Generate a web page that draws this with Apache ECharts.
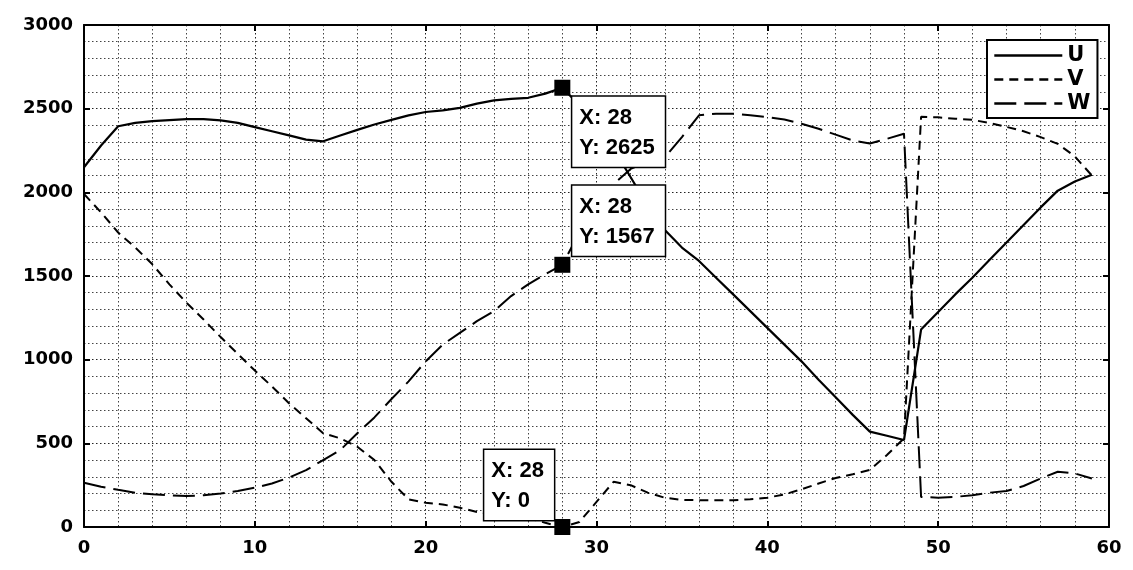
<!DOCTYPE html>
<html>
<head>
<meta charset="utf-8">
<script src="https://cdn.jsdelivr.net/npm/echarts@6/dist/echarts.min.js"></script>
<style>
html,body{margin:0;padding:0;background:#fff;}
#chart{width:1133px;height:570px;}
</style>
</head>
<body>
<div id="chart"></div>
<script>
// ---- data ----
const xValues = [0,1,2,3,4,5,6,7,8,9,10,11,12,13,14,15,16,17,18,19,20,21,22,23,24,25,26,27,28,29,30,31,32,33,34,35,36,37,38,39,40,41,42,43,44,45,46,47,48,49,50,51,52,53,54,55,56,57,58,59];
const uValues = [2150,2280,2395,2415,2425,2432,2438,2437,2430,2415,2390,2365,2340,2315,2305,2340,2373,2405,2433,2460,2480,2490,2505,2530,2550,2558,2565,2590,2625,2520,2400,2260,2090,1920,1775,1670,1590,1490,1390,1290,1190,1090,990,880,775,670,570,545,520,1180,1285,1390,1490,1595,1700,1805,1910,2010,2065,2105];
const vValues = [1990,1880,1760,1670,1570,1450,1340,1240,1135,1035,935,840,740,650,560,530,480,400,270,165,145,135,115,90,75,65,55,25,0,30,150,270,250,205,175,162,160,160,160,166,175,195,225,260,293,315,341,430,530,2451,2448,2440,2433,2415,2391,2365,2330,2290,2215,2100];
const wValues = [265,240,222,205,195,190,185,190,200,215,235,260,295,340,400,460,560,655,765,870,990,1090,1160,1230,1290,1380,1450,1510,1567,1760,1930,2050,2140,2185,2210,2330,2460,2470,2470,2460,2450,2435,2410,2380,2345,2310,2292,2320,2350,180,175,180,190,205,215,245,290,330,320,290];
const seriesNames = ['U','V','W'];
const tipX = [28, 28, 28];
const tipY = [2625, 1567, 0];
const xTicks = [0,10,20,30,40,50,60];
const yTicks = [0,500,1000,1500,2000,2500,3000];

const pairs = arr => xValues.map((x,i)=>[x,arr[i]]);
const font = 'DejaVu Sans';

const chart = echarts.init(document.getElementById('chart'), null, {renderer:'canvas'});

const gridLine = {show:true, lineStyle:{color:'#222', width:1, type:[1.5,2.5]}};
const minorLine = {show:true, lineStyle:{color:'#444', width:1, type:[1.5,2.5]}};

const xBase = {
  type:'value', min:xTicks[0], max:xTicks[xTicks.length-1], interval:10,
  axisLine:{show:true, onZero:false, lineStyle:{color:'#000', width:2}},
  axisTick:{show:true, inside:true, length:6, lineStyle:{color:'#000', width:2}},
  minorTick:{show:false, splitNumber:5}
};
const yBase = {
  type:'value', min:yTicks[0], max:yTicks[yTicks.length-1], interval:500,
  axisLine:{show:true, onZero:false, lineStyle:{color:'#000', width:2}},
  axisTick:{show:true, inside:true, length:6, lineStyle:{color:'#000', width:2}},
  minorTick:{show:false, splitNumber:5}
};

const tipPositions = [[18,17],[18,-71],[-70,-69]];

const option = {
  animation:false,
  backgroundColor:'#fff',
  grid:{left:84, right:24, top:25, bottom:43, containLabel:false},
  xAxis:[
    Object.assign({}, xBase, {position:'bottom',
      axisLabel:{show:true, color:'#000', fontFamily:font, fontWeight:'bold', fontSize:18, margin:12,
        formatter:v=>String(v)},
      splitLine:gridLine, minorSplitLine:minorLine}),
    Object.assign({}, xBase, {position:'top', axisLabel:{show:false}, splitLine:{show:false}})
  ],
  yAxis:[
    Object.assign({}, yBase, {position:'left',
      axisLabel:{show:true, color:'#000', fontFamily:font, fontWeight:'bold', fontSize:18, margin:11,
        formatter:v=>String(v)},
      splitLine:gridLine, minorSplitLine:minorLine}),
    Object.assign({}, yBase, {position:'right', axisLabel:{show:false}, splitLine:{show:false}})
  ],
  legend:{
    show:true,
    data:seriesNames, orient:'vertical', left:987, top:40,
    backgroundColor:'#fff', borderColor:'#000', borderWidth:2, borderRadius:0,
    padding:[5,7,4,6], itemGap:3, itemWidth:68, itemHeight:14,
    itemStyle:{opacity:0, color:'transparent', borderWidth:0},
    lineStyle:{width:2.6},
    textStyle:{color:'#000', fontFamily:font, fontWeight:'bold', fontSize:21},
    z:20
  },
  series:[
    {name:'U', type:'line', data:pairs(uValues), symbol:'none', color:'#000',
      lineStyle:{color:'#000', width:2.2, type:'solid'}, z:3},
    {name:'V', type:'line', data:pairs(vValues), symbol:'none', color:'#000',
      lineStyle:{color:'#000', width:2, type:[9,6]}, z:3},
    {name:'W', type:'line', data:pairs(wValues), symbol:'none', color:'#000',
      lineStyle:{color:'#000', width:2, type:[22,8]}, z:3},
    {name:'tips', type:'scatter', symbol:'rect', symbolSize:16, z:10,
      itemStyle:{color:'#000', opacity:1},
      emphasis:{disabled:true},
      data: tipX.map((x,i)=>({
        value:[x, tipY[i]],
        label:{
          show:true, position:tipPositions[i],
          formatter:'X: ' + x + '\nY: ' + tipY[i],
          color:'#000', fontFamily:'Liberation Sans', fontWeight:'bold', fontSize:22, lineHeight:30,
          backgroundColor:'#fff', borderColor:'#000', borderWidth:1.5,
          padding:[6,10,4,7], align:'left', verticalAlign:'top'
        }
      }))
    }
  ]
};
chart.setOption(option);
</script>
</body>
</html>
